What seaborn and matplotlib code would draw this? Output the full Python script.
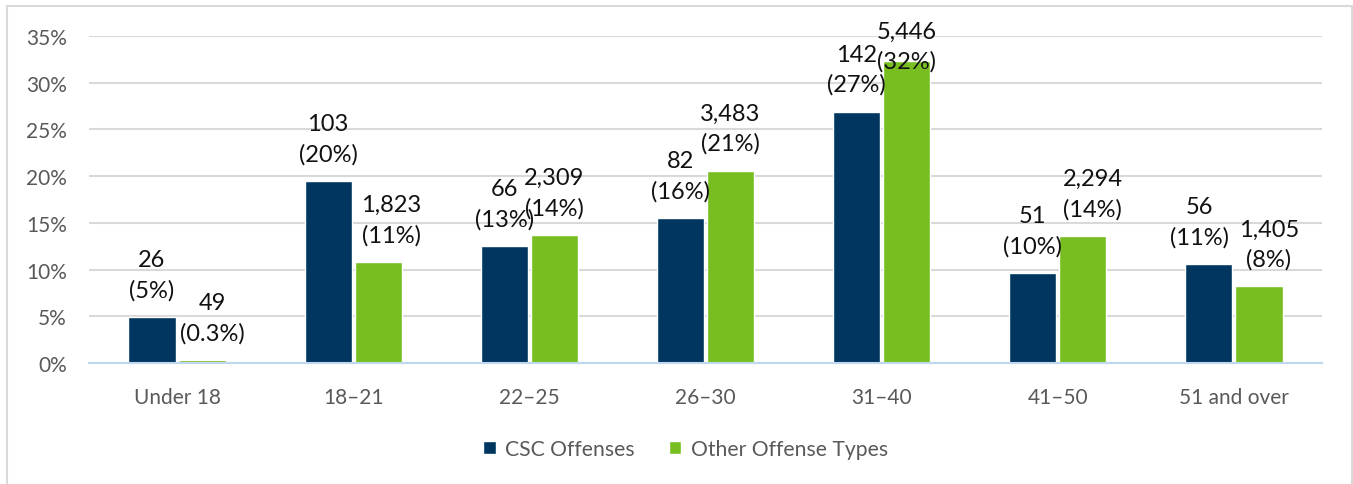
import pandas as pd
import numpy as np
import seaborn as sns
import matplotlib.pyplot as plt
from matplotlib.patches import Rectangle

age_groups = ['Under 18', '18–21', '22–25', '26–30', '31–40', '41–50', '51 and over']
series = ['CSC Offenses', 'Other Offense Types']
csc_pct = [4.9, 19.5, 12.5, 15.5, 26.9, 9.6, 10.6]
other_pct = [0.3, 10.8, 13.7, 20.6, 32.3, 13.6, 8.2]
csc_counts = ['26', '103', '66', '82', '142', '51', '56']
other_counts = ['49', '1,823', '2,309', '3,483', '5,446', '2,294', '1,405']
csc_labels = ['(5%)', '(20%)', '(13%)', '(16%)', '(27%)', '(10%)', '(11%)']
other_labels = ['(0.3%)', '(11%)', '(14%)', '(21%)', '(32%)', '(14%)', '(8%)']
yticks = [0, 5, 10, 15, 20, 25, 30, 35]

colors = ['#003660', '#78BE20']

# label nudges (points) to mimic Excel's collision shifts: (dx, dy) per bar
csc_nudge = [(0, 12), (0, 12), (0, 12), (0, 12), (0, 12), (0, 12), (-6.5, 12)]
other_nudge = [(7.2, 12), (9.4, 12), (0, 12), (0, 12), (0, -7.5), (7.2, 12), (7.2, 12)]

df = pd.DataFrame({
    'age': age_groups * 2,
    'series': [series[0]] * len(age_groups) + [series[1]] * len(age_groups),
    'pct': csc_pct + other_pct,
})

sns.set_style('white')
plt.rcParams['font.family'] = ['Lato', 'DejaVu Sans']

fig = plt.figure(figsize=(13.53, 4.85), dpi=100)
ax = fig.add_axes([89 / 1353, 121 / 485, 1233 / 1353, 327 / 485])

sns.barplot(data=df, x='age', y='pct', hue='series', order=age_groups,
            hue_order=series, palette=colors, width=0.57, gap=0.06,
            saturation=1, ax=ax)

ax.set_ylim(0, 35)
ax.set_xlim(-0.5, len(age_groups) - 0.5)
ax.set_yticks(yticks)
ax.set_yticklabels([f'{t}%' for t in yticks])
ax.yaxis.grid(True, color='#D9D9D9', linewidth=1.5)
ax.set_axisbelow(True)
for s in ['top', 'right', 'left']:
    ax.spines[s].set_visible(False)
ax.spines['bottom'].set_color('#BDD7EE')
ax.spines['bottom'].set_linewidth(1.5)
ax.set_xlabel('')
ax.set_ylabel('')
ax.tick_params(axis='both', which='major', length=0, labelsize=15,
               labelcolor='#595959')
ax.tick_params(axis='x', which='major', pad=17)
ax.tick_params(axis='y', which='major', pad=16)
ax.set_xticks(np.arange(-0.5, len(age_groups)), minor=True)
ax.tick_params(axis='x', which='minor', length=6, width=1.5, color='#BDD7EE')

label_sets = [
    [f'{c}\n{p}' for c, p in zip(csc_counts, csc_labels)],
    [f'{c}\n{p}' for c, p in zip(other_counts, other_labels)],
]
for cont, labs, nudges in zip(ax.containers, label_sets, [csc_nudge, other_nudge]):
    anns = ax.bar_label(cont, labels=labs, padding=12, fontsize=17,
                        color='#111111', linespacing=1.5)
    for ann, nd in zip(anns, nudges):
        ann.xyann = nd

sns.move_legend(ax, 'center', bbox_to_anchor=(0.5067, 0.072),
                bbox_transform=fig.transFigure, ncol=2, frameon=False,
                title=None, fontsize=15.2, handlelength=0.6, handleheight=0.6,
                columnspacing=1.6, handletextpad=0.45)
for t in ax.get_legend().get_texts():
    t.set_color('#595959')

fig.patches.append(Rectangle((7 / 1353, -0.05), 1345 / 1353, 0.05 + 478 / 485,
                             transform=fig.transFigure, fill=False,
                             edgecolor='#D9D9D9', linewidth=1.5))

fig.savefig('out.png', dpi=100, facecolor='white')
